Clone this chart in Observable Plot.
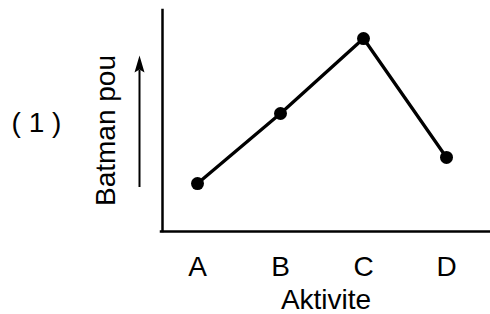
<!DOCTYPE html>
<html>
<head>
<meta charset="utf-8">
<script src="https://cdn.jsdelivr.net/npm/d3@7"></script>
<script src="https://cdn.jsdelivr.net/npm/@observablehq/plot@0.6"></script>
<style>
  html, body { margin: 0; padding: 0; background: #fff; }
  svg { display: block; }
</style>
</head>
<body>
<div id="chart"></div>
<script>
// Data
const activities = ["A", "B", "C", "D"];
const values = [2.17, 5.34, 8.73, 3.35]; // relative "Batman pou" (heart rate)
const xTitle = "Aktivite";
const yTitle = "Batman pou";
const panelLabel = "( 1 )";

const data = activities.map((a, i) => ({activity: a, value: values[i]}));
const font = "Liberation Sans, Arial, Helvetica, sans-serif";

// narrow arrowhead glyph (custom symbol)
const arrowHead = {
  draw(context) {
    context.moveTo(0, -9);
    context.lineTo(5, 8);
    context.lineTo(0, 5);
    context.lineTo(-5, 8);
    context.closePath();
  }
};

const chart = Plot.plot({
  width: 490,
  height: 314,
  marginLeft: 161,
  marginRight: 0,
  marginTop: 10,
  marginBottom: 83,
  insetLeft: 35,
  insetRight: 43,
  style: {fontFamily: font, fontSize: "28px", color: "#000", background: "#fff"},
  x: {type: "point", domain: activities, padding: 0, label: null},
  y: {domain: [0, 10], axis: null},
  marks: [
    Plot.axisX({tickSize: 0, tickPadding: 25, fontSize: 28, label: null}),
    Plot.ruleY([0], {stroke: "#000", strokeWidth: 2.5, strokeLinecap: "square"}),
    Plot.ruleX(["A"], {y1: 0, y2: 10, dx: -35, stroke: "#000", strokeWidth: 2.5, strokeLinecap: "square"}),
    Plot.line(data, {x: "activity", y: "value", stroke: "#000", strokeWidth: 3.3}),
    Plot.dot(data, {x: "activity", y: "value", r: 6.5, fill: "#000"}),
    // arrow beside y title
    Plot.ruleX(["A"], {y1: 1.99, y2: 7.3, dx: -58, stroke: "#000", strokeWidth: 2}),
    Plot.dot(["A"], {x: d => d, y: 7.56, dx: -58, symbol: arrowHead, r: 5, fill: "#000", stroke: "none"}),
    Plot.text([yTitle], {text: d => d, frameAnchor: "left", textAnchor: "middle", lineAnchor: "middle", rotate: -90, dx: -55, dy: 9.5, fontSize: 28}),
    Plot.text([panelLabel], {text: d => d, frameAnchor: "left", textAnchor: "middle", lineAnchor: "middle", dx: -125, dy: 2.5, fontSize: 28}),
    Plot.text([xTitle], {text: d => d, frameAnchor: "bottom", textAnchor: "middle", lineAnchor: "middle", dy: 69, fontSize: 28})
  ]
});

document.getElementById("chart").appendChild(chart);
</script>
</body>
</html>
